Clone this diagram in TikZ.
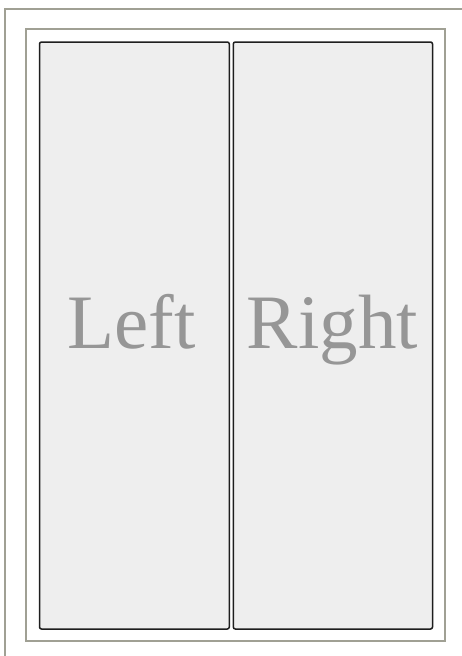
\documentclass[tikz,border=0pt]{standalone}
\usepackage{fontspec}
\setmainfont{Liberation Serif}
\definecolor{framec}{RGB}{160,160,148}
\definecolor{panelfill}{RGB}{238,238,238}
\definecolor{textc}{RGB}{150,150,150}
\definecolor{paneledge}{RGB}{30,30,30}
\begin{document}
\begin{tikzpicture}[x=1pt,y=-1pt,
  frameline/.style={draw=framec,line width=1.4pt},
  panel/.style={draw=paneledge,fill=panelfill,line width=1.5pt,rounded corners=2pt},
  bigtext/.style={text=textc,font=\fontsize{77}{77}\selectfont,anchor=base,inner sep=0pt}]
\useasboundingbox[fill=white] (0,0) rectangle (462,656);
\draw[frameline] (5,656) -- (5,9) -- (462,9);
\draw[frameline] (26,29) rectangle (445,641);
\draw[panel] (39.5,42) rectangle (229.3,629);
\draw[panel] (233.3,42) rectangle (432.5,629);
\node[bigtext] (left) at (131.5,348) {Left};
\node[bigtext] (right) at (332.5,348) {Right};
\end{tikzpicture}
\end{document}
